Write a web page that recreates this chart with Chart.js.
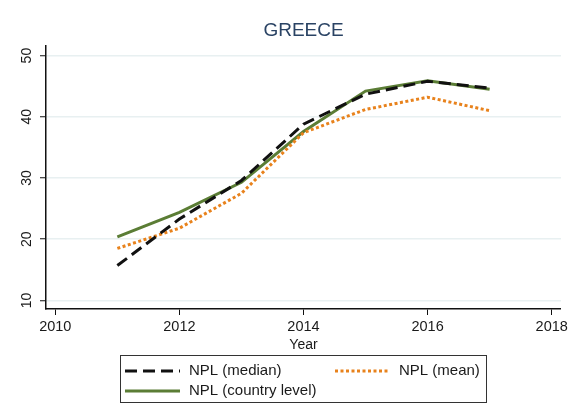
<!DOCTYPE html>
<html>
<head>
<meta charset="utf-8">
<script src="https://cdn.jsdelivr.net/npm/chart.js@4.4.1/dist/chart.umd.min.js"></script>
<style>
  html, body { margin: 0; padding: 0; background: #fff; }
  #wrap { width: 571px; height: 419px; }
</style>
</head>
<body>
<div id="wrap"><canvas id="grafica_npl" width="571" height="419"></canvas></div>
<script>
const years = [2011, 2012, 2013, 2014, 2015, 2016, 2017];
const nplMedian  = [15.7, 23.3, 29.6, 38.8, 43.7, 45.8, 44.7];
const nplMean    = [18.5, 21.8, 27.5, 37.4, 41.2, 43.2, 41.0];
const nplCountry = [20.4, 24.4, 29.3, 37.6, 44.2, 45.9, 44.5];
const xTicks = [2010, 2012, 2014, 2016, 2018];
const yTicks = [10, 20, 30, 40, 50];

const font = "'Liberation Sans', Arial, sans-serif";
const toPts = (vals) => vals.map((v, i) => ({ x: years[i], y: v }));

// etiquetas del eje y giradas, como en Stata
const yLabels = {
  id: 'yLabels',
  afterDraw(chart) {
    const ctx = chart.ctx;
    const y = chart.scales.y;
    ctx.save();
    ctx.fillStyle = '#1a1a1a';
    ctx.font = '14px ' + font;
    ctx.textAlign = 'center';
    ctx.textBaseline = 'middle';
    yTicks.forEach(v => {
      const py = y.getPixelForValue(v);
      ctx.save();
      ctx.translate(27, py);
      ctx.rotate(-Math.PI / 2);
      ctx.fillText(String(v), 0, 0);
      ctx.restore();
    });
    ctx.restore();
  }
};

// leyenda en caja, dos columnas
const boxLegend = {
  id: 'boxLegend',
  afterDraw(chart) {
    const ctx = chart.ctx;
    const ds = chart.data.datasets;
    const slots = [
      { i: 0, x: 125, y: 371 },
      { i: 1, x: 335, y: 371 },
      { i: 2, x: 125, y: 391 }
    ];
    ctx.save();
    ctx.strokeStyle = '#333';
    ctx.lineWidth = 1;
    ctx.strokeRect(120.5, 355.5, 366, 47);
    ctx.font = '15px ' + font;
    ctx.textBaseline = 'middle';
    ctx.fillStyle = '#1a1a1a';
    slots.forEach(s => {
      const d = ds[s.i];
      ctx.save();
      ctx.strokeStyle = d.borderColor;
      ctx.lineWidth = d.borderWidth;
      ctx.setLineDash(d.borderDash || []);
      ctx.beginPath();
      ctx.moveTo(s.x, s.y);
      ctx.lineTo(s.x + 55, s.y);
      ctx.stroke();
      ctx.restore();
      ctx.fillText(d.label, s.x + 64, s.y);
    });
    ctx.restore();
  }
};

const ctx = document.getElementById('grafica_npl').getContext('2d');
new Chart(ctx, {
  type: 'line',
  data: {
    datasets: [{
      label: 'NPL (median)',
      data: toPts(nplMedian),
      borderColor: '#111111',
      borderWidth: 3,
      borderDash: [12, 6],
      order: 1
    }, {
      label: 'NPL (mean)',
      data: toPts(nplMean),
      borderColor: '#e8821c',
      borderWidth: 3,
      borderDash: [3, 2.5],
      order: 2
    }, {
      label: 'NPL (country level)',
      data: toPts(nplCountry),
      borderColor: '#5b7d35',
      borderWidth: 3,
      order: 3
    }]
  },
  options: {
    responsive: false,
    animation: false,
    layout: { padding: { left: 0, right: 10, top: 0, bottom: 65 } },
    elements: { point: { radius: 0 }, line: { tension: 0, fill: false } },
    scales: {
      x: {
        type: 'linear',
        min: 2009.85,
        max: 2018.15,
        afterBuildTicks: (s) => { s.ticks = xTicks.map(v => ({ value: v })); },
        afterFit: (s) => { s.height = 45; },
        ticks: {
          color: '#1a1a1a',
          font: { family: font, size: 14.5 },
          padding: 3,
          maxRotation: 0,
          callback: (v) => String(v)
        },
        grid: { drawOnChartArea: false, drawTicks: true, tickLength: 6, tickColor: '#111', tickWidth: 1 },
        border: { color: '#111', width: 1.5 },
        title: {
          display: true,
          text: 'Year',
          color: '#1a1a1a',
          font: { family: font, size: 14 },
          padding: { top: -7, bottom: 0 }
        }
      },
      y: {
        min: 8.6,
        max: 51.6,
        afterBuildTicks: (s) => { s.ticks = yTicks.map(v => ({ value: v })); },
        afterFit: (s) => { s.width = 46; },
        ticks: { color: 'rgba(0,0,0,0)', font: { family: font, size: 13 } },
        grid: { color: '#e8f0f1', lineWidth: 1.5, tickLength: 6, tickColor: '#111', tickWidth: 1 },
        border: { color: '#111', width: 1.5 }
      }
    },
    plugins: {
      legend: { display: false },
      tooltip: { enabled: false },
      title: {
        display: true,
        text: 'GREECE',
        fullSize: false,
        color: '#2a4364',
        font: { family: font, size: 19, weight: 'normal' },
        padding: { top: 19, bottom: 4 }
      }
    }
  },
  plugins: [yLabels, boxLegend]
});
</script>
</body>
</html>
